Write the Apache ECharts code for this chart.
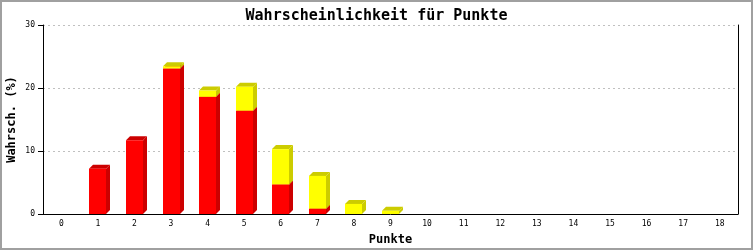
<!DOCTYPE html>
<html><head><meta charset="utf-8">
<script src="https://cdn.jsdelivr.net/npm/echarts@6/dist/echarts.min.js"></script>
<style>html,body{margin:0;padding:0;background:#fff}#c{width:753px;height:250px}</style>
</head><body><div id="c"></div>
<script>
var categories = ['0','1','2','3','4','5','6','7','8','9','10','11','12','13','14','15','16','17','18'];
var redValues = [0, 7.2, 11.7, 23.1, 18.6, 16.4, 4.7, 0.85, 0, 0, 0, 0, 0, 0, 0, 0, 0, 0, 0];
var yellowValues = [0, 0, 0, 0.35, 1.0, 3.8, 5.6, 5.2, 1.6, 0.5, 0, 0, 0, 0, 0, 0, 0, 0, 0];
var yTicks = [0, 10, 20, 30];

var chart = echarts.init(document.getElementById('c'));
var DEPTH = 4;
function makeRender(front, dark) {
  return function (params, api) {
    var cat = api.value(0), base = api.value(1), top = api.value(2);
    if (top - base <= 0) return null;
    var p0 = api.coord([cat, base]);
    var p1 = api.coord([cat, top]);
    var w = 17;
    var x = Math.round(p0[0] - w / 2), y0 = p0[1], y1 = p1[1];
    return {
      type: 'group',
      children: [
        {type: 'polygon', shape: {points: [[x + w, y1], [x + w + DEPTH, y1 - DEPTH], [x + w + DEPTH, y0 - DEPTH], [x + w, y0]]}, style: {fill: dark}},
        {type: 'polygon', shape: {points: [[x, y1], [x + DEPTH, y1 - DEPTH], [x + w + DEPTH, y1 - DEPTH], [x + w, y1]]}, style: {fill: dark}},
        {type: 'rect', shape: {x: x, y: y1, width: w, height: y0 - y1}, style: {fill: front}}
      ]
    };
  };
}
var redData = categories.map(function (c, i) { return [i, 0, redValues[i]]; });
var yellowData = categories.map(function (c, i) { return [i, redValues[i], redValues[i] + yellowValues[i]]; });
var mono = 'DejaVu Sans Mono';
chart.setOption({
  animation: false,
  backgroundColor: '#fff',
  graphic: [{type: 'rect', shape: {x: 1, y: 1, width: 751, height: 248}, style: {fill: 'none', stroke: '#a0a0a0', lineWidth: 2}, z: 100}],
  title: {text: 'Wahrscheinlichkeit für Punkte', left: 'center', top: 4,
    textStyle: {fontFamily: mono, fontSize: 15, fontWeight: 'bold', color: '#000'}},
  grid: {left: 43, right: 15, top: 25, bottom: 36, containLabel: false, outerBoundsMode: 'none'},
  xAxis: {
    type: 'category', data: categories, boundaryGap: true,
    name: 'Punkte', nameLocation: 'middle', nameGap: 20, nameMoveOverlap: false,
    nameTextStyle: {fontFamily: mono, fontSize: 12, fontWeight: 'bold', color: '#000'},
    axisLine: {lineStyle: {color: '#000', width: 1}},
    axisTick: {show: false},
    axisLabel: {fontFamily: mono, fontSize: 8, color: '#000', margin: 6, interval: 0}
  },
  yAxis: [{
    type: 'value', min: yTicks[0], max: yTicks[yTicks.length - 1], interval: 10,
    name: 'Wahrsch. (%)', nameLocation: 'middle', nameGap: 25, nameRotate: 90, nameMoveOverlap: false,
    nameTextStyle: {fontFamily: mono, fontSize: 12, fontWeight: 'bold', color: '#000'},
    axisLine: {show: true, lineStyle: {color: '#000', width: 1}},
    axisTick: {show: true, length: 5, lineStyle: {color: '#000'}},
    axisLabel: {fontFamily: mono, fontSize: 8, color: '#000', margin: 8},
    splitLine: {lineStyle: {color: '#c0c0c0', type: [2, 3]}}
  }, {
    type: 'value', min: 0, max: 30, interval: 10, position: 'right',
    axisLine: {show: true, lineStyle: {color: '#000', width: 1}},
    axisTick: {show: false}, axisLabel: {show: false}, splitLine: {show: false}
  }],
  series: [
    {type: 'custom', renderItem: makeRender('#ff0000', '#cc0000'), data: redData, encode: {x: 0, y: [1, 2]}, z: 2},
    {type: 'custom', renderItem: makeRender('#ffff00', '#cccc00'), data: yellowData, encode: {x: 0, y: [1, 2]}, z: 3}
  ]
});
</script></body></html>
